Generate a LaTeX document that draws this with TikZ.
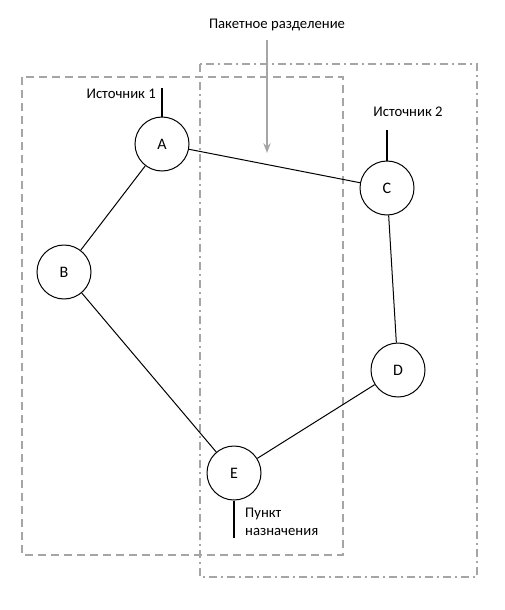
\documentclass[tikz,border=0pt]{standalone}
\usepackage{fontspec}
\setmainfont{Carlito}
\usepackage{xcolor}
\usetikzlibrary{arrows.meta, positioning}

\definecolor{boxgray}{RGB}{165,165,165}

\begin{document}
\begin{tikzpicture}[
  x=1pt, y=-1pt,
  router/.style={circle, draw, line width=1pt, minimum size=54pt, inner sep=0pt, font=\fontsize{16}{18}\selectfont},
  label/.style={font=\fontsize{14.7}{18}\selectfont, inner sep=0pt},
  feed/.style={line width=2pt},
  link/.style={line width=1pt},
  zone/.style={boxgray, line width=2pt, dash pattern=on 8pt off 5pt},
  zone2/.style={boxgray, line width=2pt, dash pattern=on 8pt off 4pt on 2pt off 4pt},
  >=Stealth
]
\useasboundingbox (0,0) rectangle (505,610);

% две зоны
\draw[zone] (22,77) rectangle (343,555);
\draw[zone2] (200,64) rectangle (477,577);

% узлы
\node[router] (A) at (162,144) {A};
\node[router] (B) at (64,272) {B};
\node[router] (C) at (387,188) {C};
\node[router] (D) at (398,370) {D};
\node[router] (E) at (234,473) {E};

\draw[link] (A) -- (C);
\draw[link] (A) -- (B);
\draw[link] (B) -- (E);
\draw[link] (E) -- (D);
\draw[link] (C) -- (D);

% источники и получатель
\coordinate (srcA) at (162,88);
\coordinate (srcC) at (387,130);
\coordinate (dst) at (234,538);
\draw[feed] (srcA) -- (A);
\draw[feed] (srcC) -- (C);
\draw[feed] (E) -- (dst);
\node[label, anchor=east] (src1) at (156,94) {Источник 1};
\node[label] (src2) at (408,112) {Источник 2};
\node[label, anchor=west, align=left] (dstlbl) at (245,522) {Пункт\\назначения};

% разделение
\node[label] (split) at (277,25) {Пакетное разделение};
\coordinate (cutTop) at (267,40);
\coordinate (cutEnd) at (267,153);
\draw[->, boxgray, line width=1.5pt] (cutTop) -- (cutEnd);
\end{tikzpicture}
\end{document}
